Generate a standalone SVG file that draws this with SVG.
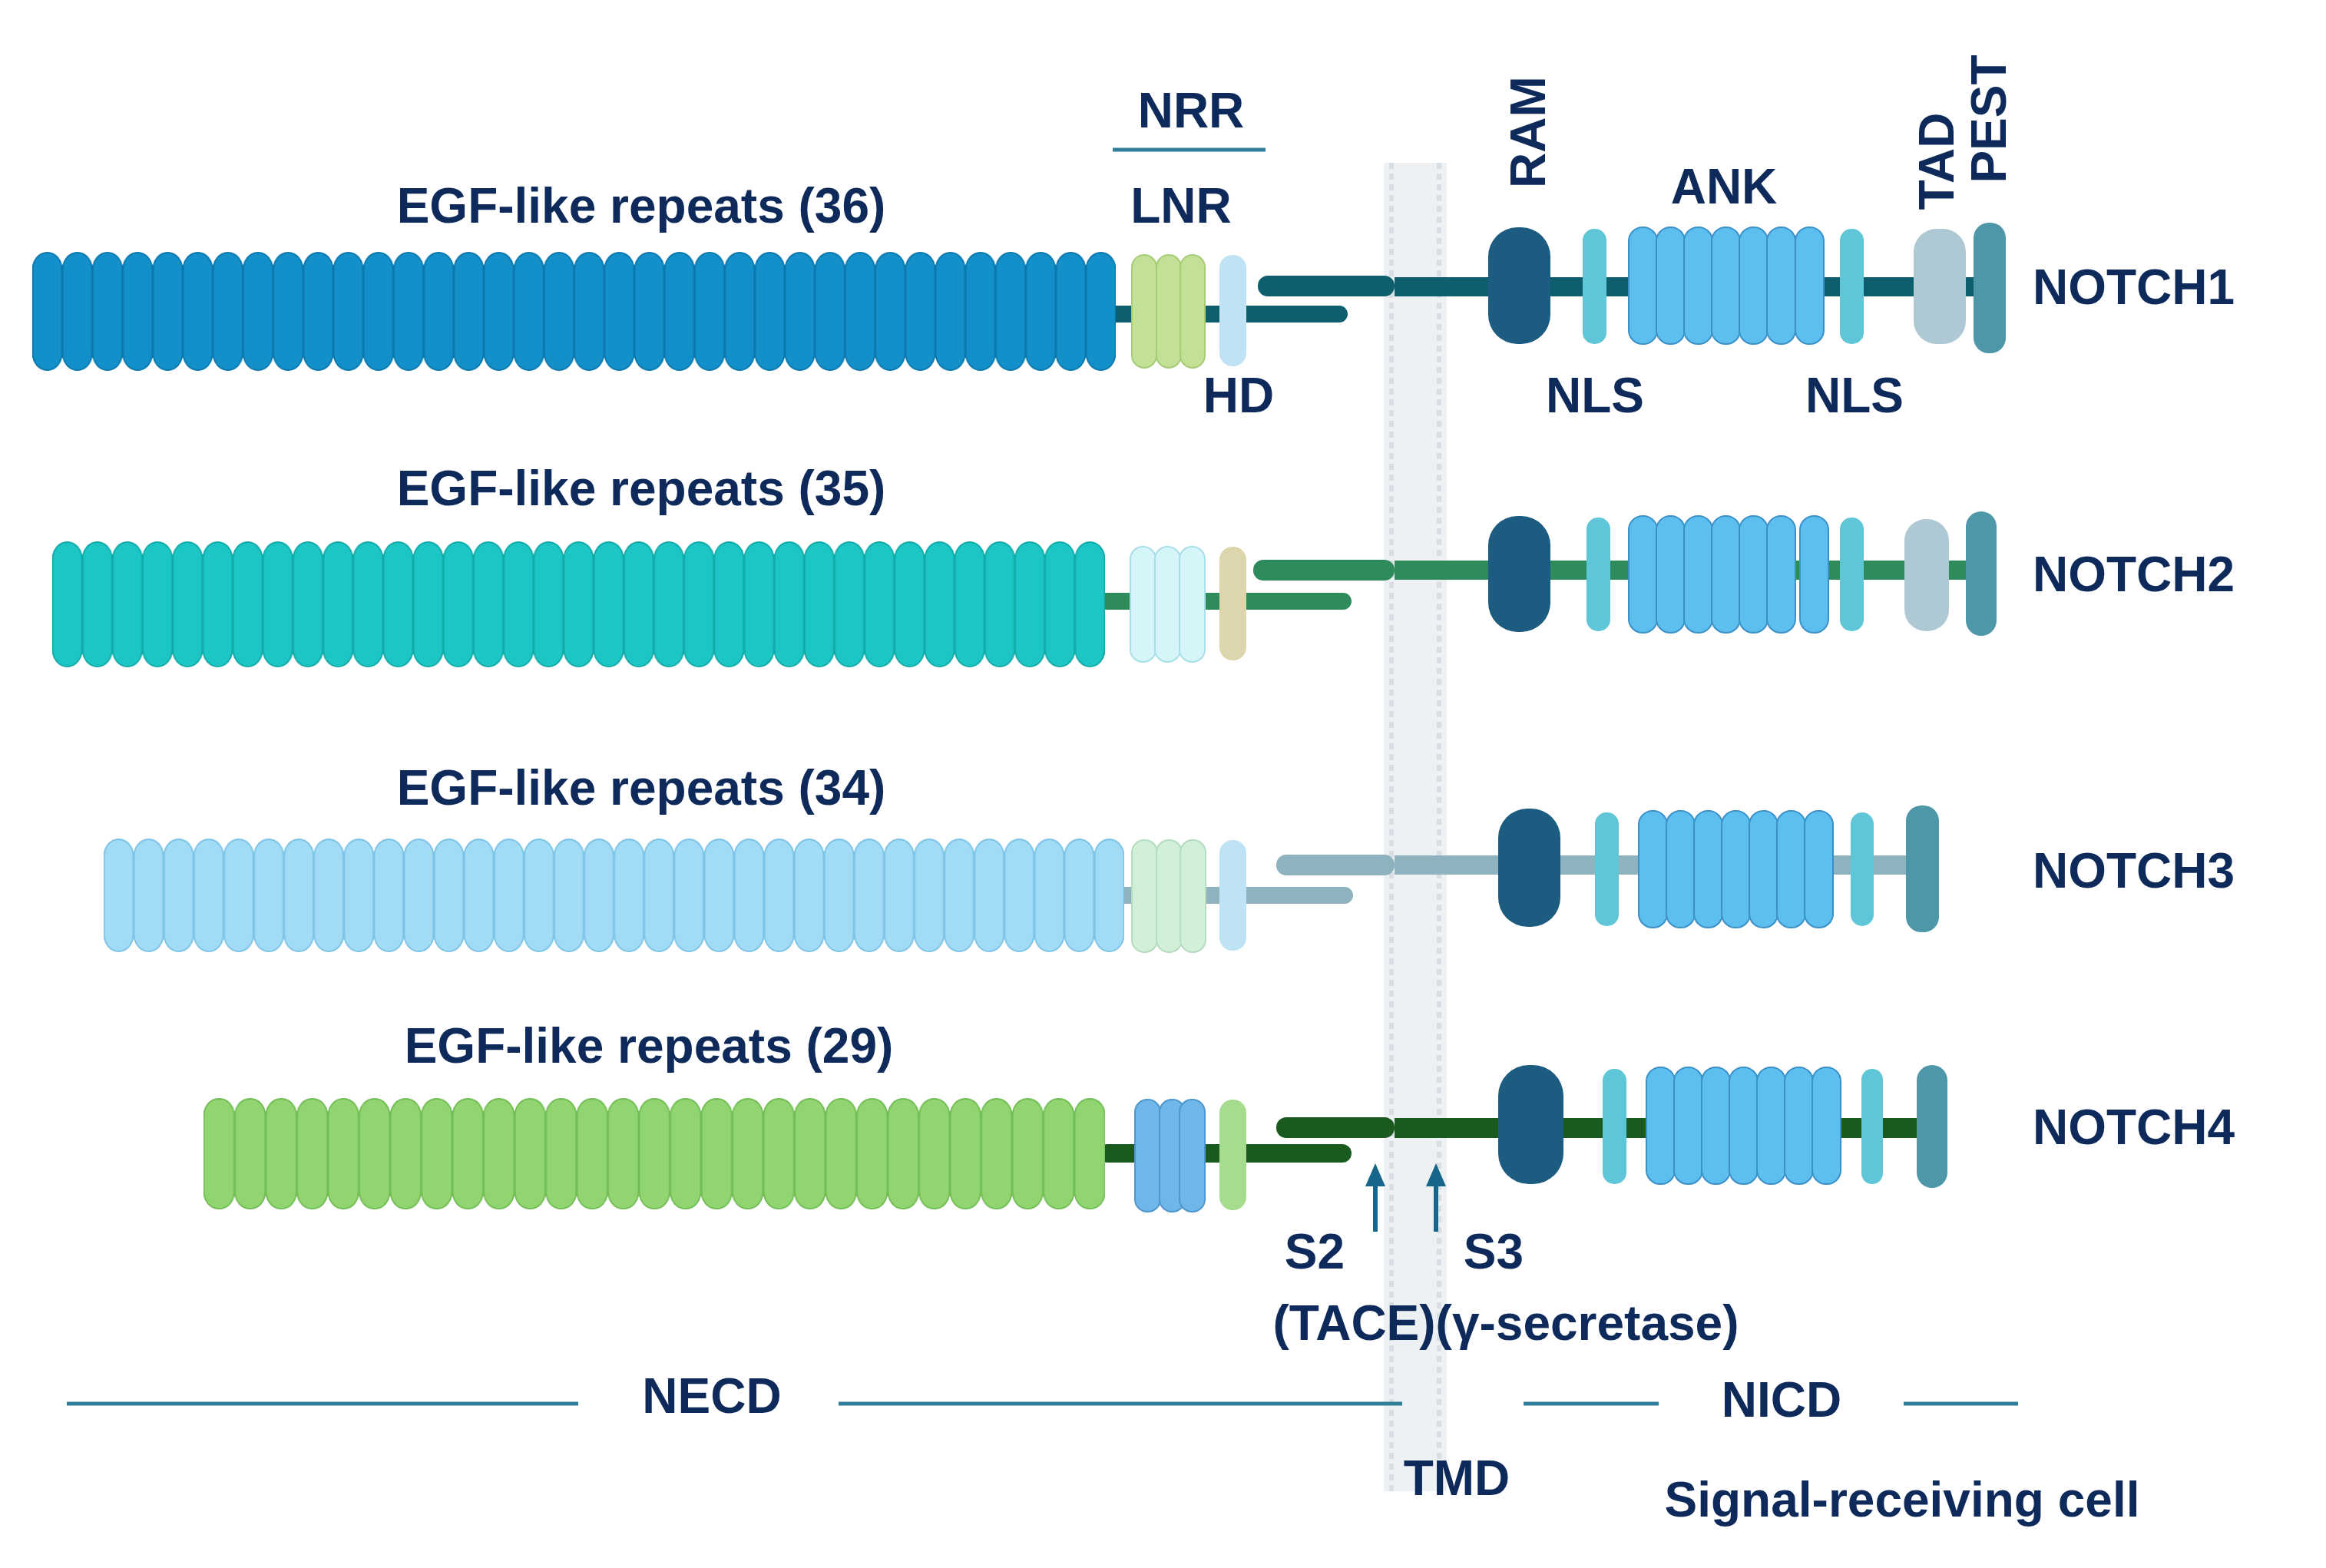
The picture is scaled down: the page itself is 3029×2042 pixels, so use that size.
<svg xmlns="http://www.w3.org/2000/svg" width="3029" height="2042" viewBox="0 0 3029 2042">
<defs>
<pattern id="p1" patternUnits="userSpaceOnUse" x="42" y="328" width="39.2" height="155"><rect x="0.5" y="1" width="38.2" height="153" rx="19" ry="22" fill="#138fc9" stroke="#0a78ae" stroke-width="2"/></pattern>
<pattern id="p2" patternUnits="userSpaceOnUse" x="68" y="705" width="39.17" height="164"><rect x="0.5" y="1" width="38.2" height="162" rx="19" ry="22" fill="#1bc6c4" stroke="#12aaa8" stroke-width="2"/></pattern>
<pattern id="p3" patternUnits="userSpaceOnUse" x="135" y="1092" width="39.09" height="148"><rect x="0.5" y="1" width="38.1" height="146" rx="19" ry="22" fill="#a2dbf6" stroke="#7cc3e6" stroke-width="2"/></pattern>
<pattern id="p4" patternUnits="userSpaceOnUse" x="265" y="1430" width="40.5" height="145"><rect x="0.5" y="1" width="39.5" height="143" rx="19" ry="22" fill="#90d570" stroke="#72bd55" stroke-width="2"/></pattern>
</defs>
<style>
text{font-family:"Liberation Sans",Arial,sans-serif;font-weight:bold;fill:#0e2a5a}
.t{font-size:64px}
.m{text-anchor:middle}
.ank{fill:#5cbff0;stroke:#3b90c8;stroke-width:2}
.nls{fill:#5fc6d8}
.ram{fill:#1b5c80}
.tad{fill:#aec8d4}
.pest{fill:#4d97a8}
.ln{stroke:#2f7f9a;stroke-width:5}
</style>
<rect width="3029" height="2042" fill="#fff"/>

<g id="membrane">
<rect x="1802" y="212" width="82" height="1730" fill="#eef1f4"/>
<line x1="1812" y1="212" x2="1812" y2="1942" stroke="#d9dee4" stroke-width="6" stroke-dasharray="8 6"/>
<line x1="1874" y1="212" x2="1874" y2="1942" stroke="#d9dee4" stroke-width="6" stroke-dasharray="8 6"/>
</g>

<g id="notch1">
<rect x="1430" y="398" width="325" height="22" rx="11" fill="#0d5f6e"/>
<rect x="1638" y="359" width="178" height="27" rx="13" fill="#0d5f6e"/>
<rect x="1816" y="361" width="760" height="25" fill="#0d5f6e"/>
<rect x="42" y="328" width="1411" height="155" fill="url(#p1)"/>
<g fill="#c2e096" stroke="#a6cc78" stroke-width="2"><rect x="1474" y="332" width="32" height="147" rx="16"/><rect x="1506" y="332" width="32" height="147" rx="16"/><rect x="1537" y="332" width="32" height="147" rx="16"/></g>
<rect x="1588" y="332" width="35" height="145" rx="17" fill="#bfe2f5"/>
<rect x="1938" y="296" width="81" height="152" rx="38" class="ram"/>
<rect x="2061" y="298" width="31" height="150" rx="15" class="nls"/>
<g class="ank"><rect x="2121" y="296" width="37" height="152" rx="18"/><rect x="2157" y="296" width="37" height="152" rx="18"/><rect x="2193" y="296" width="37" height="152" rx="18"/><rect x="2229" y="296" width="37" height="152" rx="18"/><rect x="2265" y="296" width="37" height="152" rx="18"/><rect x="2301" y="296" width="37" height="152" rx="18"/><rect x="2338" y="296" width="37" height="152" rx="18"/></g>
<rect x="2396" y="298" width="31" height="150" rx="15" class="nls"/>
<rect x="2492" y="298" width="68" height="150" rx="30" class="tad"/>
<rect x="2570" y="290" width="42" height="170" rx="20" class="pest"/>
<text class="t" x="2647" y="396">NOTCH1</text>
<text class="t m" x="835" y="290">EGF-like repeats (36)</text>
</g>

<g id="notch2">
<rect x="1430" y="772" width="330" height="22" rx="11" fill="#2e8c5c"/>
<rect x="1632" y="729" width="184" height="27" rx="13" fill="#2e8c5c"/>
<rect x="1816" y="730" width="760" height="25" fill="#2e8c5c"/>
<rect x="68" y="705" width="1371" height="164" fill="url(#p2)"/>
<g fill="#d6f5f8" stroke="#a9e0e8" stroke-width="2"><rect x="1472" y="712" width="33" height="150" rx="16"/><rect x="1504" y="712" width="33" height="150" rx="16"/><rect x="1536" y="712" width="33" height="150" rx="16"/></g>
<rect x="1588" y="712" width="35" height="148" rx="17" fill="#ddd6ad"/>
<rect x="1938" y="672" width="81" height="151" rx="38" class="ram"/>
<rect x="2066" y="674" width="31" height="148" rx="15" class="nls"/>
<g class="ank"><rect x="2121" y="672" width="37" height="152" rx="18"/><rect x="2157" y="672" width="37" height="152" rx="18"/><rect x="2193" y="672" width="37" height="152" rx="18"/><rect x="2229" y="672" width="37" height="152" rx="18"/><rect x="2265" y="672" width="37" height="152" rx="18"/><rect x="2301" y="672" width="37" height="152" rx="18"/><rect x="2344" y="672" width="37" height="152" rx="18"/></g>
<rect x="2396" y="674" width="31" height="148" rx="15" class="nls"/>
<rect x="2480" y="676" width="58" height="146" rx="28" class="tad"/>
<rect x="2560" y="666" width="40" height="162" rx="20" class="pest"/>
<text class="t" x="2647" y="770">NOTCH2</text>
<text class="t m" x="835" y="658">EGF-like repeats (35)</text>
</g>

<g id="notch3">
<rect x="1440" y="1155" width="322" height="22" rx="11" fill="#8fb3be"/>
<rect x="1662" y="1113" width="154" height="27" rx="13" fill="#8fb3be"/>
<rect x="1816" y="1114" width="680" height="25" fill="#8fb3be"/>
<rect x="135" y="1092" width="1329" height="148" fill="url(#p3)"/>
<g fill="#d2efd8" stroke="#b5dcbf" stroke-width="2"><rect x="1474" y="1094" width="33" height="146" rx="16"/><rect x="1506" y="1094" width="33" height="146" rx="16"/><rect x="1537" y="1094" width="33" height="146" rx="16"/></g>
<rect x="1588" y="1094" width="35" height="144" rx="17" fill="#bde3f5"/>
<rect x="1951" y="1053" width="81" height="154" rx="38" class="ram"/>
<rect x="2077" y="1058" width="31" height="148" rx="15" class="nls"/>
<g class="ank"><rect x="2134" y="1056" width="37" height="152" rx="18"/><rect x="2170" y="1056" width="37" height="152" rx="18"/><rect x="2206" y="1056" width="37" height="152" rx="18"/><rect x="2242" y="1056" width="37" height="152" rx="18"/><rect x="2278" y="1056" width="37" height="152" rx="18"/><rect x="2314" y="1056" width="37" height="152" rx="18"/><rect x="2350" y="1056" width="37" height="152" rx="18"/></g>
<rect x="2410" y="1058" width="30" height="148" rx="15" class="nls"/>
<rect x="2482" y="1049" width="43" height="165" rx="20" class="pest"/>
<text class="t" x="2647" y="1156">NOTCH3</text>
<text class="t m" x="835" y="1048">EGF-like repeats (34)</text>
</g>

<g id="notch4">
<rect x="1430" y="1490" width="330" height="24" rx="12" fill="#1b5a1e"/>
<rect x="1662" y="1455" width="154" height="27" rx="13" fill="#1b5a1e"/>
<rect x="1816" y="1456" width="690" height="26" fill="#1b5a1e"/>
<rect x="265" y="1430" width="1174" height="145" fill="url(#p4)"/>
<g fill="#6fb6ea" stroke="#4f98cf" stroke-width="2"><rect x="1478" y="1432" width="33" height="146" rx="16"/><rect x="1510" y="1432" width="33" height="146" rx="16"/><rect x="1536" y="1432" width="33" height="146" rx="16"/></g>
<rect x="1588" y="1432" width="35" height="144" rx="17" fill="#a6dc8e"/>
<rect x="1951" y="1387" width="85" height="155" rx="40" class="ram"/>
<rect x="2087" y="1392" width="31" height="150" rx="15" class="nls"/>
<g class="ank"><rect x="2144" y="1390" width="37" height="152" rx="18"/><rect x="2180" y="1390" width="37" height="152" rx="18"/><rect x="2216" y="1390" width="37" height="152" rx="18"/><rect x="2252" y="1390" width="37" height="152" rx="18"/><rect x="2288" y="1390" width="37" height="152" rx="18"/><rect x="2324" y="1390" width="37" height="152" rx="18"/><rect x="2360" y="1390" width="37" height="152" rx="18"/></g>
<rect x="2424" y="1392" width="28" height="150" rx="14" class="nls"/>
<rect x="2496" y="1387" width="40" height="160" rx="20" class="pest"/>
<text class="t" x="2647" y="1490">NOTCH4</text>
<text class="t m" x="845" y="1384">EGF-like repeats (29)</text>
</g>

<g id="labels">
<text class="t m" x="1551" y="166">NRR</text>
<line class="ln" x1="1449" y1="195" x2="1648" y2="195"/>
<text class="t m" x="1538" y="290">LNR</text>
<text class="t m" x="1613" y="537">HD</text>
<text class="t m" x="2077" y="537">NLS</text>
<text class="t m" x="2415" y="537">NLS</text>
<text class="t m" x="2245" y="265">ANK</text>
<text class="t m" transform="translate(2012,172) rotate(-90)">RAM</text>
<text class="t m" transform="translate(2544,210) rotate(-90)">TAD</text>
<text class="t m" transform="translate(2612,155) rotate(-90)">PEST</text>
</g>

<g id="connectors">
<line x1="1791" y1="1604" x2="1791" y2="1540" stroke="#16658a" stroke-width="6"/>
<polygon points="1778,1545 1804,1545 1791,1515" fill="#16658a"/>
<line x1="1870" y1="1604" x2="1870" y2="1540" stroke="#16658a" stroke-width="6"/>
<polygon points="1857,1545 1883,1545 1870,1515" fill="#16658a"/>
<line class="ln" x1="87" y1="1828" x2="753" y2="1828"/>
<line class="ln" x1="1092" y1="1828" x2="1826" y2="1828"/>
<line class="ln" x1="1984" y1="1828" x2="2160" y2="1828"/>
<line class="ln" x1="2479" y1="1828" x2="2628" y2="1828"/>
</g>

<g id="bottom">
<text class="t m" x="1712" y="1652">S2</text>
<text class="t m" x="1945" y="1652">S3</text>
<text class="t m" x="1961" y="1745">(TACE)(γ-secretase)</text>
<text class="t m" x="927" y="1840">NECD</text>
<text class="t m" x="2320" y="1845">NICD</text>
<text class="t m" x="1897" y="1947">TMD</text>
<text class="t m" x="2477" y="1975">Signal-receiving cell</text>
</g>
</svg>
